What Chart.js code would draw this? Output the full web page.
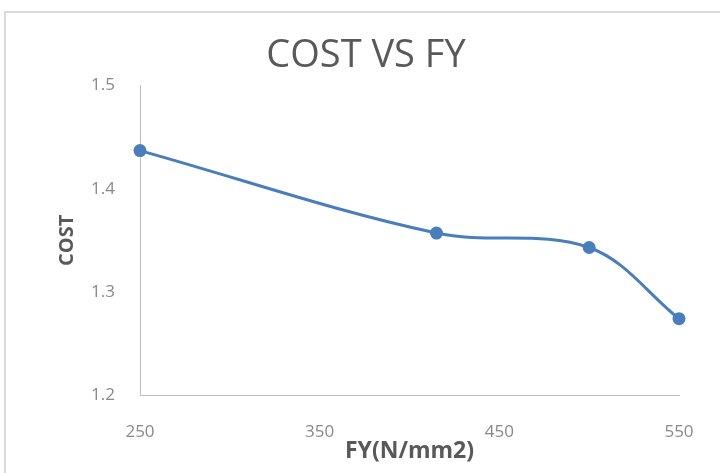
<!DOCTYPE html>
<html>
<head>
<meta charset="utf-8">
<script src="https://cdn.jsdelivr.net/npm/chart.js@4/dist/chart.umd.min.js"></script>
<style>
  html, body { margin: 0; padding: 0; background: #ffffff; overflow: hidden; }
  #wrap { position: relative; width: 720px; height: 473px; overflow: hidden; }
  #frame {
    position: absolute; left: 4px; top: 11px; width: 800px; height: 600px;
    border-left: 2px solid #d9d9d9; border-top: 2px solid #d9d9d9;
  }
  #c { position: absolute; left: 0; top: 0; }
</style>
</head>
<body>
<div id="wrap">
  <div id="frame"></div>
  <canvas id="c" width="732" height="473"></canvas>
</div>
<script>
// Yield strength of steel (N/mm2) against relative cost
const fyValues   = [250, 415, 500, 550];
const costValues = [1.437, 1.357, 1.343, 1.274];
const xTicks     = [250, 350, 450, 550];
const yTicks     = [1.2, 1.3, 1.4, 1.5];

const points = fyValues.map((fy, i) => ({ x: fy, y: costValues[i] }));

const FAMILY    = "'Open Sans', 'Liberation Sans', sans-serif";
const tickFont  = { family: FAMILY, size: 17 };
const LINE_BLUE = '#4a7ebb';

new Chart(document.getElementById('c'), {
  type: 'line',
  data: {
    datasets: [{
      label: 'COST',
      data: points,
      borderColor: LINE_BLUE,
      backgroundColor: LINE_BLUE,
      borderWidth: 3,
      pointRadius: 6.5,
      pointHoverRadius: 6.5,
      pointBackgroundColor: LINE_BLUE,
      pointBorderWidth: 0,
      tension: 0.35,
      fill: false,
      clip: false,
      yAxisID: 'y'
    }]
  },
  options: {
    responsive: false,
    animation: false,
    layout: { padding: 0 },
    plugins: {
      legend: { display: false },
      tooltip: { enabled: false },
      title: {
        display: true,
        text: 'COST VS FY',
        color: '#595959',
        font: { family: FAMILY, size: 38, weight: 'normal' },
        padding: { top: 33, bottom: 7 }
      }
    },
    scales: {
      x: {
        type: 'linear',
        min: 250,
        max: 550,
        afterBuildTicks: (s) => { s.ticks = xTicks.map(v => ({ value: v })); },
        afterFit: (s) => { s.height = 78; },
        grid: { display: true, drawOnChartArea: false, drawTicks: false },
        border: { display: true, color: '#bfbfbf', width: 1 },
        ticks: { color: '#898989', font: tickFont, padding: 27, maxRotation: 0 },
        title: {
          display: true, text: 'FY(N/mm2)', color: '#595959',
          font: { family: FAMILY, size: 23, weight: 'bold' },
          padding: { top: 0, bottom: 8 }
        }
      },
      y: {
        type: 'linear',
        position: 'left',
        min: 1.2,
        max: 1.5,
        afterBuildTicks: (s) => { s.ticks = yTicks.map(v => ({ value: v })); },
        afterFit: (s) => { s.width = 140; },
        grid: { display: true, drawOnChartArea: false, drawTicks: false },
        border: { display: true, color: '#bfbfbf', width: 1 },
        ticks: { color: '#898989', font: tickFont, padding: 25, callback: (v) => v.toFixed(1) },
        title: {
          display: true, text: 'COST', color: '#595959',
          font: { family: FAMILY, size: 20, weight: 'bold' },
          padding: { top: 55, bottom: 0 }
        }
      },
      // empty right-hand margin so the plot ends where the frame needs it
      yRight: {
        type: 'linear',
        position: 'right',
        display: true,
        afterFit: (s) => { s.width = 53; },
        grid: { display: false },
        border: { display: false },
        ticks: { display: false }
      }
    }
  }
});
</script>
</body>
</html>
